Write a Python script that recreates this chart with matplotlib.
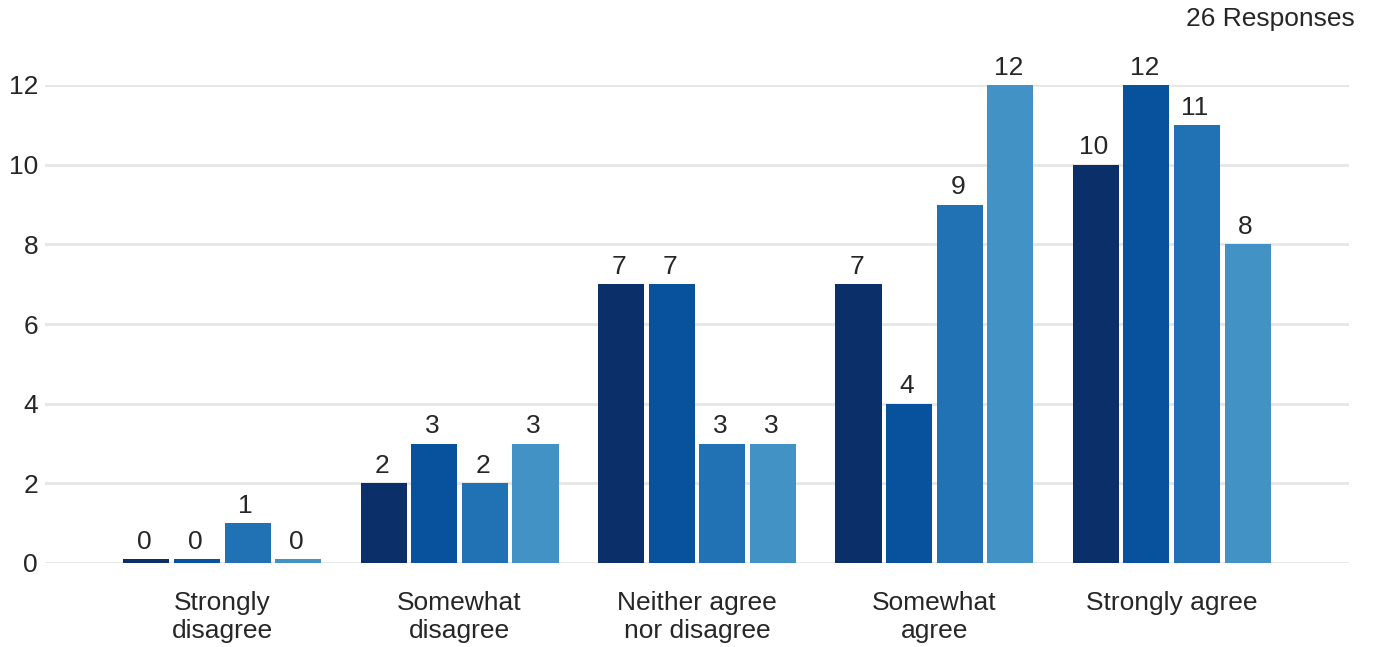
import matplotlib
matplotlib.use("Agg")
import matplotlib.pyplot as plt
import numpy as np

categories = ["Strongly\ndisagree", "Somewhat\ndisagree", "Neither agree\nnor disagree", "Somewhat\nagree", "Strongly agree"]
series_values = [
    [0, 2, 7, 7, 10],
    [0, 3, 7, 4, 12],
    [1, 2, 3, 9, 11],
    [0, 3, 3, 12, 8],
]
colors = ["#0a2f69", "#08519c", "#2171b5", "#4292c6"]
yticks = [0, 2, 4, 6, 8, 10, 12]
title = "26 Responses"

plt.rcParams['font.family'] = ['Liberation Sans', 'DejaVu Sans']
text_color = "#262626"

fig = plt.figure(figsize=(13.76, 6.47), dpi=100)
W, H = 1376, 647
ax = fig.add_axes([45 / W, 1 - 563 / H, (1349 - 45) / W, (563 - 85) / H])

x = np.arange(len(categories))
step = 0.213
width = 0.194
for i, vals in enumerate(series_values):
    offs = (i - 1.5) * step
    heights = [v if v > 0 else 0.1 for v in vals]
    ax.bar(x + offs, heights, width=width, color=colors[i], zorder=3, clip_on=False)
    for xi, v, h in zip(x, vals, heights):
        ax.text(xi + offs - 0.008, h + 0.13, str(v), ha='center', va='bottom',
                fontsize=19, color=text_color, zorder=4)

ax.set_xlim(-0.747, len(categories) - 1 + 0.747)
ax.set_ylim(0, 12)
ax.set_yticks(yticks)
ax.set_yticklabels([str(t) for t in yticks], fontsize=19, color=text_color)
ax.set_xticks(x)
ax.set_xticklabels(categories, fontsize=19, color=text_color, linespacing=1.2)
ax.tick_params(axis='both', length=0)
ax.tick_params(axis='y', pad=5)
ax.tick_params(axis='x', pad=20)
ax.grid(axis='y', color='#e6e6e6', linewidth=2, zorder=0)
ax.set_axisbelow(True)
for s in ax.spines.values():
    s.set_visible(False)

fig.text(1355 / W, 1 - 19 / H, title, ha='right', va='center', fontsize=19, color=text_color)

fig.savefig("out.png", dpi=100)
